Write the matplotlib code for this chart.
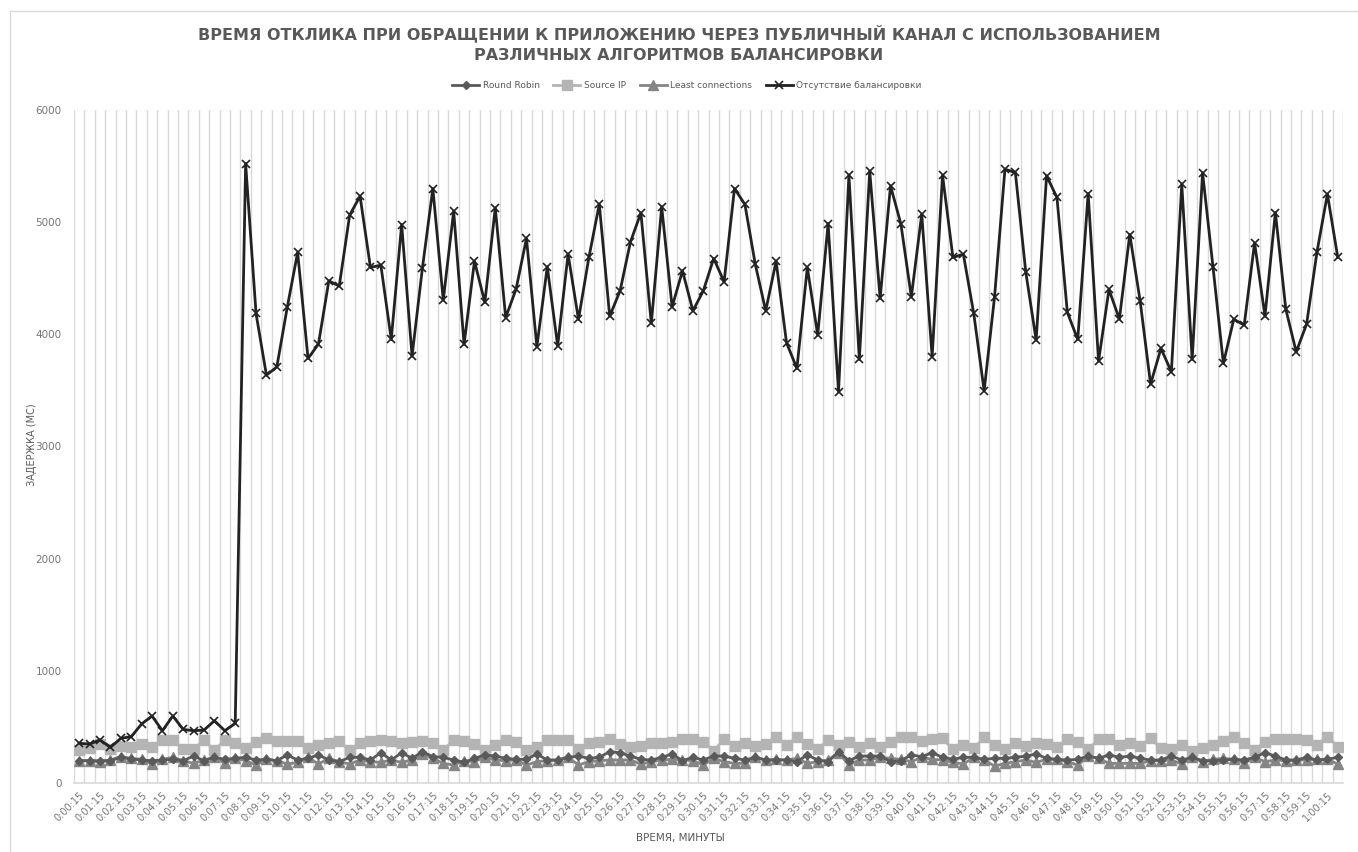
import numpy as np
import matplotlib.pyplot as plt
from matplotlib.lines import Line2D

# time stamps every 30 s, starting at 0:00:15
times = []
for k in range(122):
    s = 15 + 30 * k
    times.append(f"{s // 3600}:{(s % 3600) // 60:02d}:{s % 60:02d}")

no_balancing = [354, 348, 383, 318, 398, 413, 526, 597, 466, 597, 478, 466, 472, 555, 466, 532,
                5523, 4186, 3636, 3710, 4240, 4730, 3785, 3913, 4477, 4430, 5062, 5232, 4596, 4617,
                3954, 4979, 3806, 4593, 5300, 4305, 5098, 3910, 4652, 4284, 5128, 4150, 4403, 4855,
                3889, 4602, 3898, 4715, 4133, 4685, 5160, 4162, 4388, 4825, 5083, 4097, 5137, 4245,
                4566, 4210, 4388, 4676, 4468, 5300, 5158, 4623, 4210, 4652, 3925, 3696, 4596, 3993,
                4988, 3488, 5419, 3776, 5455, 4320, 5324, 4982, 4334, 5071, 3800, 5419, 4685, 4715,
                4186, 3497, 4334, 5472, 5443, 4557, 3948, 5413, 5220, 4195, 3954, 5255, 3761, 4400,
                4135, 4890, 4296, 3556, 3874, 3666, 5339, 3776, 5440, 4602, 3741, 4135, 4082, 4815,
                4162, 5086, 4225, 3844, 4091, 4735, 5250, 4685]

source_ip = [294, 309, 345, 305, 330, 320, 350, 325, 380, 380, 305, 305, 380, 295, 380, 360,
             310, 362, 400, 377, 377, 377, 309, 339, 359, 375, 290, 354, 377, 383, 377, 354,
             362, 375, 354, 294, 380, 377, 350, 294, 337, 383, 368, 294, 318, 383, 383, 383,
             300, 353, 368, 389, 347, 318, 330, 353, 359, 368, 389, 389, 368, 288, 389, 330,
             353, 330, 347, 413, 339, 407, 347, 300, 383, 339, 368, 324, 353, 318, 368, 413,
             407, 377, 389, 398, 300, 339, 309, 407, 339, 300, 359, 330, 359, 344, 318, 389,
             368, 300, 389, 389, 339, 359, 330, 398, 309, 300, 339, 288, 309, 339, 377, 407,
             353, 294, 368, 389, 389, 389, 383, 339, 413, 324]

round_robin = [199, 199, 199, 199, 229, 214, 205, 199, 205, 211, 199, 240, 199, 229, 211, 220,
               229, 205, 211, 199, 250, 205, 220, 250, 205, 190, 229, 229, 205, 270, 205, 270,
               220, 279, 235, 229, 205, 184, 220, 250, 240, 220, 211, 211, 258, 205, 205, 229,
               240, 220, 229, 279, 270, 240, 211, 205, 229, 258, 199, 229, 205, 240, 240, 220,
               205, 229, 205, 205, 205, 190, 250, 205, 190, 279, 199, 240, 240, 240, 190, 199,
               250, 235, 270, 229, 211, 229, 229, 211, 220, 220, 229, 240, 258, 220, 211, 205,
               211, 240, 220, 250, 229, 240, 220, 205, 205, 240, 205, 229, 199, 199, 205, 211,
               205, 229, 270, 240, 205, 205, 229, 205, 211, 229]

least_conn = [199, 199, 190, 205, 235, 220, 211, 169, 211, 229, 199, 175, 205, 229, 175, 220,
              199, 160, 211, 199, 169, 184, 229, 169, 220, 190, 169, 205, 190, 184, 205, 184,
              205, 258, 220, 175, 160, 199, 190, 229, 205, 199, 205, 160, 190, 199, 205, 229,
              160, 190, 199, 205, 205, 205, 169, 190, 205, 211, 205, 199, 160, 220, 190, 175,
              175, 229, 205, 211, 205, 220, 175, 190, 205, 270, 160, 205, 205, 229, 220, 211,
              190, 229, 211, 205, 184, 169, 229, 205, 151, 175, 190, 205, 184, 211, 211, 190,
              160, 240, 220, 175, 175, 175, 175, 199, 199, 205, 169, 229, 190, 211, 220, 211,
              175, 229, 190, 205, 199, 205, 205, 211, 211, 169]

FONT = 'DejaVu Sans'
TXT = '#595959'
TICK = '#767676'
GRID = '#d9d9d9'

x = np.arange(len(times))

fig = plt.figure(figsize=(13.58, 8.52), dpi=100)
ax = fig.add_axes([74 / 1358, 1 - 783 / 852, 1269 / 1358, 673 / 852])

ax.plot(x, round_robin, color='#5a5a5a', lw=2, marker='D', ms=4.5, label='Round Robin', zorder=4)
ax.plot(x, source_ip, color='#b4b4b4', lw=2, marker='s', ms=6.5, label='Source IP', zorder=3)
ax.plot(x, least_conn, color='#858585', lw=2, marker='^', ms=6.5, label='Least connections', zorder=3)
ax.plot(x, no_balancing, color='#222222', lw=2, marker='x', ms=6, mew=1.2,
        label='Отсутствие балансировки', zorder=5)

ax.set_xlim(-0.5, len(times) - 0.5)
ax.set_ylim(0, 6000)
ax.set_yticks(range(0, 6001, 1000))
ax.set_xticks(x[::2])
ax.set_xticklabels(times[::2], rotation=45, ha='right', rotation_mode='anchor',
                   fontsize=7, color=TICK, family=FONT)
ax.set_xticks(np.arange(-0.5, len(times), 1), minor=True)
ax.tick_params(axis='x', which='both', length=0, pad=5)
ax.tick_params(axis='y', length=0, pad=9, labelsize=7.5, labelcolor=TICK)
ax.grid(True, axis='x', which='minor', color=GRID, lw=1)
ax.set_axisbelow(True)
for s in ['top', 'right', 'left']:
    ax.spines[s].set_visible(False)
ax.spines['bottom'].set_color(GRID)
ax.spines['bottom'].set_linewidth(1.2)

fig.text(0.5, 1 - 33 / 852, 'ВРЕМЯ ОТКЛИКА ПРИ ОБРАЩЕНИИ К ПРИЛОЖЕНИЮ ЧЕРЕЗ ПУБЛИЧНЫЙ КАНАЛ С ИСПОЛЬЗОВАНИЕМ',
         ha='center', va='center', fontsize=11.5, fontweight='bold', color=TXT, family=FONT)
fig.text(0.5, 1 - 56 / 852, 'РАЗЛИЧНЫХ АЛГОРИТМОВ БАЛАНСИРОВКИ',
         ha='center', va='center', fontsize=11.5, fontweight='bold', color=TXT, family=FONT)

leg = ax.legend(loc='center', bbox_to_anchor=(687 / 1358, 1 - 86 / 852),
                bbox_transform=fig.transFigure, ncol=4, frameon=False, fontsize=6.5,
                handlelength=3, columnspacing=1.5, handletextpad=0.4)
for t in leg.get_texts():
    t.set_color(TXT)

fig.text(32 / 1358, 1 - 445 / 852, 'ЗАДЕРЖКА (МС)', rotation=90, ha='center', va='center',
         fontsize=7, color=TXT, family=FONT)
fig.text(680 / 1358, 1 - 838 / 852, 'ВРЕМЯ, МИНУТЫ', ha='center', va='center',
         fontsize=7.5, color=TXT, family=FONT)

# outer chart border (top and left edges)
fig.add_artist(Line2D([10 / 1358, 1], [1 - 11 / 852, 1 - 11 / 852], color=GRID, lw=1,
                      transform=fig.transFigure))
fig.add_artist(Line2D([10 / 1358, 10 / 1358], [0, 1 - 11 / 852], color=GRID, lw=1,
                      transform=fig.transFigure))

fig.savefig('out.png', dpi=100)
